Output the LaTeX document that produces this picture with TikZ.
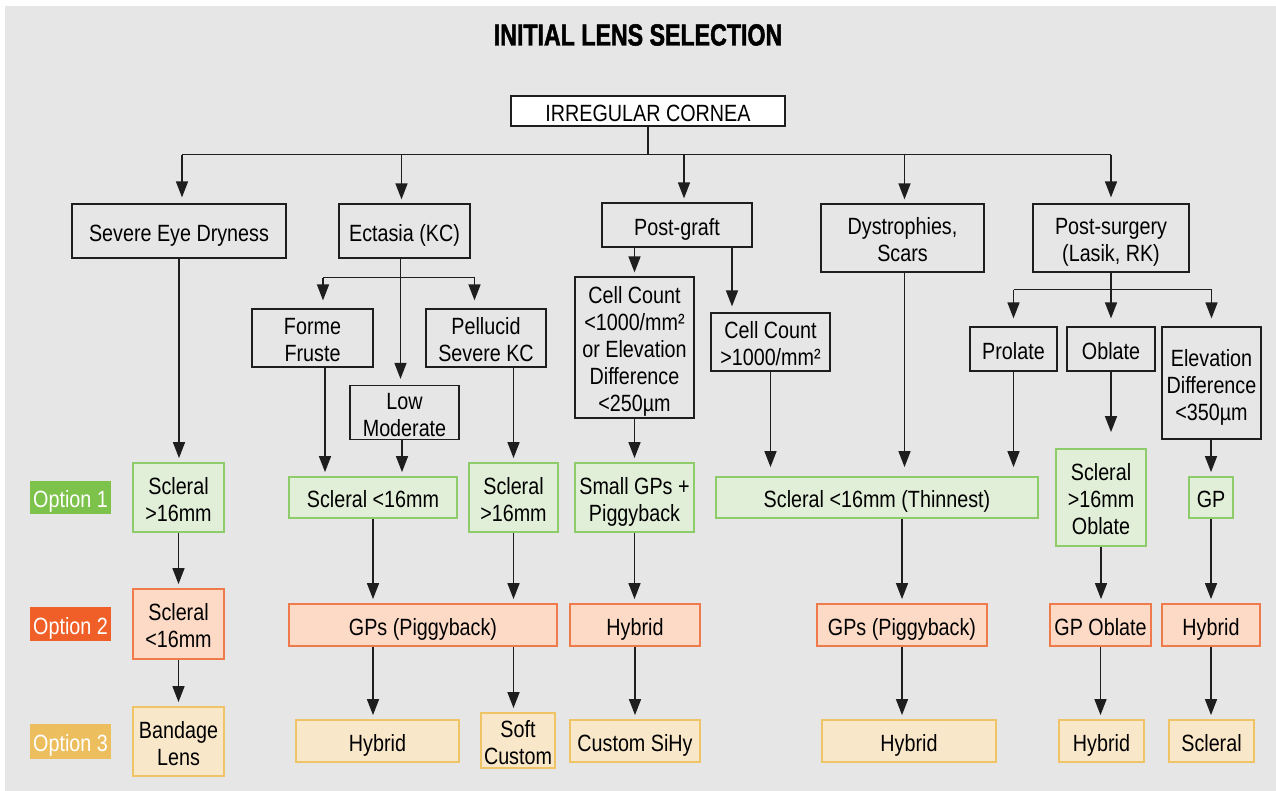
\documentclass[tikz,border=0pt]{standalone}
\usepackage{fontspec}
\setmainfont{Liberation Sans}[FakeStretch=0.84]
\newfontfamily\titlefont{Liberation Sans}[FakeStretch=0.76,FakeBold=1.6]
\usetikzlibrary{arrows.meta}
\definecolor{bgc}{HTML}{E6E6E6}
\definecolor{linec}{HTML}{1E1E1E}
\definecolor{gfill}{HTML}{E2EFD8}
\definecolor{gdraw}{HTML}{8DCB6B}
\definecolor{ofill}{HTML}{FCDAC6}
\definecolor{odraw}{HTML}{EF7A4C}
\definecolor{yfill}{HTML}{F9E7C9}
\definecolor{ydraw}{HTML}{EFC466}
\definecolor{gopt}{HTML}{7CC24B}
\definecolor{oopt}{HTML}{F05F27}
\definecolor{yopt}{HTML}{EDBE5E}
\newcommand\txtfont{\fontsize{23.5}{27}\selectfont}
\newcommand\lines[1]{\raisebox{-5pt}[\height][\depth]{\begin{tabular}{@{}c@{}}#1\end{tabular}}}
\newcommand\mybox[7]{\node[#6, minimum width={(#4-#2)*1pt}, minimum height={(#5-#3)*1pt}] (#1) at ({(#2+#4)/2},{(#3+#5)/2}) {\lines{#7}};}
\tikzset{
  box/.style={draw=linec, line width=1.2pt, inner sep=0pt, font=\txtfont, text=black},
  wbox/.style={box, fill=white},
  gbox/.style={box, draw=gdraw, fill=gfill, line width=1.8pt},
  obox/.style={box, draw=odraw, fill=ofill, line width=1.8pt},
  ybox/.style={box, draw=ydraw, fill=yfill, line width=1.8pt},
  optlabel/.style={inner sep=0pt, font=\txtfont, text=white},
  glabel/.style={optlabel, fill=gopt},
  olabel/.style={optlabel, fill=oopt},
  ylabel/.style={optlabel, fill=yopt},
  wire/.style={draw=linec, line width=1.5pt},
  conn/.style={wire, -{Triangle[length=16pt,width=12pt]}, shorten >=4pt},
  titlestyle/.style={font=\titlefont\bfseries\fontsize{30.5}{32}\selectfont, text=black, inner sep=0pt}
}
\begin{document}
\begin{tikzpicture}[x=1pt,y=-1pt]
\useasboundingbox (0,0) rectangle (1276,791);
\fill[bgc] (5,6) rectangle (1276,791);
\node[titlestyle] (title) at (638,35) {INITIAL LENS SELECTION};
% level 0/1
\mybox{ic}{511}{96}{785}{126}{wbox}{IRREGULAR CORNEA}
\mybox{sed}{72}{204}{286}{258}{box}{Severe Eye Dryness}
\mybox{ect}{339}{204}{470}{258}{box}{Ectasia (KC)}
\mybox{pg}{602}{203}{752}{247}{box}{Post-graft}
\mybox{dys}{821}{204}{984}{272}{box}{Dystrophies,\\Scars}
\mybox{psu}{1033}{204}{1189}{272}{box}{Post-surgery\\(Lasik, RK)}
% level 2
\mybox{ff}{252}{309}{373}{367}{box}{Forme\\Fruste}
\mybox{pel}{426}{309}{546}{367}{box}{Pellucid\\Severe KC}
\mybox{lm}{350}{386}{459}{439}{box}{Low\\Moderate}
\mybox{cca}{575}{277}{694}{418}{box}{Cell Count\\<1000/mm²\\or Elevation\\Difference\\<250µm}
\mybox{ccb}{711}{313}{830}{371}{box}{Cell Count\\>1000/mm²}
\mybox{pro}{970}{327}{1057}{371}{box}{Prolate}
\mybox{obl}{1067}{327}{1155}{371}{box}{Oblate}
\mybox{elv}{1162}{327}{1261}{439}{box}{Elevation\\Difference\\<350µm}
% option 1
\mybox{oa}{30}{481}{111}{514}{glabel}{Option 1}
\mybox{sa1}{133}{463}{224}{532}{gbox}{Scleral\\>16mm}
\mybox{sb1}{289}{477}{457}{518}{gbox}{Scleral <16mm}
\mybox{sc1}{469}{463}{558}{532}{gbox}{Scleral\\>16mm}
\mybox{sd1}{575}{463}{694}{532}{gbox}{Small GPs +\\Piggyback}
\mybox{se1}{716}{477}{1038}{518}{gbox}{Scleral <16mm (Thinnest)}
\mybox{sf1}{1056}{449}{1146}{546}{gbox}{Scleral\\>16mm\\Oblate}
\mybox{sg1}{1189}{477}{1233}{518}{gbox}{GP}
% option 2
\mybox{ob}{30}{607}{111}{641}{olabel}{Option 2}
\mybox{sa2}{133}{589}{224}{659}{obox}{Scleral\\<16mm}
\mybox{sb2}{289}{604}{557}{646}{obox}{GPs (Piggyback)}
\mybox{sc2}{570}{604}{700}{646}{obox}{Hybrid}
\mybox{sd2}{817}{604}{987}{646}{obox}{GPs (Piggyback)}
\mybox{se2}{1050}{604}{1151}{646}{obox}{GP Oblate}
\mybox{sf2}{1162}{604}{1260}{646}{obox}{Hybrid}
% option 3
\mybox{oc}{30}{724}{111}{759}{ylabel}{Option 3}
\mybox{sa3}{133}{707}{224}{776}{ybox}{Bandage\\Lens}
\mybox{sb3}{296}{720}{459}{762}{ybox}{Hybrid}
\mybox{sc3}{481}{713}{555}{768}{ybox}{Soft\\Custom}
\mybox{sd3}{570}{720}{700}{762}{ybox}{Custom SiHy}
\mybox{se3}{822}{720}{996}{762}{ybox}{Hybrid}
\mybox{sf3}{1059}{720}{1144}{762}{ybox}{Hybrid}
\mybox{sg3}{1169}{720}{1254}{762}{ybox}{Scleral}
% connectors: top
\draw[wire] (ic.south) -- ++(0,28) coordinate (j0);
\draw[wire] ([xshift=3pt]sed.north |- j0) -- (psu.north |- j0);
\draw[conn, shorten >=6pt] ([xshift=3pt]sed.north |- j0) -- ([xshift=3pt]sed.north);
\draw[conn] ([xshift=-3pt]ect.north |- j0) -- ([xshift=-3pt]ect.north);
\draw[conn] ([xshift=7pt]pg.north |- j0) -- ([xshift=7pt]pg.north);
\draw[conn] ([xshift=2pt]dys.north |- j0) -- ([xshift=2pt]dys.north);
\draw[conn, shorten >=6pt] (psu.north |- j0) -- (psu.north);
% ectasia
\draw[wire] ([xshift=-4pt]ect.south) -- ++(0,19) coordinate (j1);
\draw[wire] ([xshift=10.5pt]ff.north |- j1) -- ([xshift=-11.5pt]pel.north |- j1);
\draw[conn, shorten >=8pt] ([xshift=10.5pt]ff.north |- j1) -- ([xshift=10.5pt]ff.north);
\draw[conn, shorten >=8pt] ([xshift=-11.5pt]pel.north |- j1) -- ([xshift=-11.5pt]pel.north);
\draw[conn, shorten >=6pt] (j1) -- (j1 |- lm.north);
\draw[conn] ([xshift=12.5pt]ff.south) -- ([xshift=12.5pt]ff.south |- sb1.north);
\draw[conn] ([xshift=-2.5pt]lm.south) -- ([xshift=-2.5pt]lm.south |- sb1.north);
\draw[conn] (pel.south -| sc1.north) -- (sc1.north);
\draw[conn] (sb1.south) -- (sb1.south |- sb2.north);
\draw[conn] (sc1.south) -- (sc1.south |- sb2.north);
\draw[conn] (sb1.south |- sb2.south) -- (sb1.south |- sb3.north);
\draw[conn] (sc1.south |- sb2.south) -- (sc1.south |- sc3.north);
% severe eye dryness
\draw[conn] (sed.south) -- (sed.south |- sa1.north);
\draw[conn] (sa1.south) -- (sa2.north);
\draw[conn] (sa2.south) -- (sa3.north);
% post-graft
\draw[conn] (pg.south -| cca.north) -- (cca.north);
\draw[conn, shorten >=6pt] ([xshift=55pt]pg.south) -- ([xshift=55pt]pg.south |- ccb.north);
\draw[conn] (cca.south) -- (sd1.north);
\draw[conn] (sd1.south) -- (sd1.south |- sc2.north);
\draw[conn] (sc2.south) -- (sd3.north);
\draw[conn, shorten >=9pt] (ccb.south) -- (ccb.south |- se1.north);
% dystrophies
\draw[conn, shorten >=9pt] ([xshift=2pt]dys.south) -- ([xshift=2pt]dys.south |- se1.north);
\draw[conn] (se1.south -| sd2.north) -- (sd2.north);
\draw[conn] (sd2.south) -- (sd2.south |- se3.north);
% post-surgery
\draw[wire] (psu.south) -- ++(0,17) coordinate (j2);
\draw[wire] (pro.north |- j2) -- (elv.north |- j2);
\draw[conn, shorten >=8pt] (pro.north |- j2) -- (pro.north);
\draw[conn, shorten >=8pt] (j2) -- (j2 |- obl.north);
\draw[conn, shorten >=8pt] (elv.north |- j2) -- (elv.north);
\draw[conn, shorten >=9pt] (pro.south) -- (pro.south |- se1.north);
\draw[conn, shorten >=16pt] (obl.south) -- (obl.south |- sf1.north);
\draw[conn] (elv.south -| sg1.north) -- (sg1.north);
\draw[conn] (sf1.south) -- (sf1.south |- se2.north);
\draw[conn] (se2.south) -- (se2.south |- sf3.north);
\draw[conn] (sg1.south) -- (sg1.south |- sf2.north);
\draw[conn] (sf2.south) -- (sf2.south |- sg3.north);
\end{tikzpicture}
\end{document}
